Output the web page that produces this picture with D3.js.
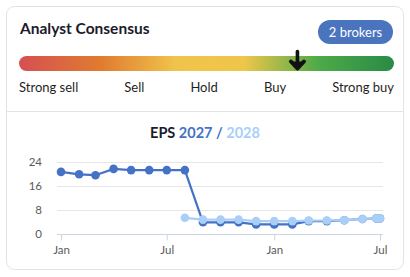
<!DOCTYPE html>
<html><head><meta charset="utf-8">
<script src="https://cdn.jsdelivr.net/npm/d3@7"></script>
<style>
html,body{margin:0;padding:0;background:#fff;}
svg{display:block;font-family:Lato,"Noto Sans",sans-serif;}
</style></head>
<body><svg id="c" width="410" height="277"></svg>
<script>
const title = "Analyst Consensus";
const brokers = "2 brokers";
const ratingLabels = ["Strong sell","Sell","Hold","Buy","Strong buy"];
const consensus = 3.97; // 1 = Strong sell ... 5 = Strong buy
const gradientStops = ["#d64f52","#e07c30","#f0c44c","#eec64a","#4caa48","#2a8a46"];
const gradientOffsets = [0,0.22,0.42,0.6,0.8,1];

const dates2027 = ["2025-01-01","2025-02-01","2025-03-01","2025-04-01","2025-05-01","2025-06-01","2025-07-01","2025-08-01","2025-09-01","2025-10-01","2025-11-01","2025-12-01","2026-01-01","2026-02-01","2026-03-01","2026-04-01","2026-05-01","2026-06-01","2026-06-25","2026-07-01"];
const eps2027 = [20.7,19.9,19.6,21.7,21.3,21.3,21.3,21.3,3.9,3.9,3.9,3.2,3.2,3.2,4.3,4.3,4.6,5.0,5.2,5.2];
const dates2028 = ["2025-08-01","2025-09-01","2025-10-01","2025-11-01","2025-12-01","2026-01-01","2026-02-01","2026-03-01","2026-04-01","2026-05-01","2026-06-01","2026-06-25","2026-07-01"];
const eps2028 = [5.4,4.8,4.8,4.8,4.3,4.3,4.3,4.5,4.5,4.6,5.0,5.2,5.2];
const yTicks = [0,8,16,24];

const c2027 = "#4472c4", c2028 = "#a9cff8";
const svg = d3.select("#c");
const parse = d3.timeParse("%Y-%m-%d");

// card
svg.append("rect").attr("x",6.5).attr("y",6.5).attr("width",397).attr("height",263)
  .attr("rx",8).attr("fill","#fff").attr("stroke","#e3e3e3");
svg.append("line").attr("x1",7).attr("x2",403).attr("y1",111.5).attr("y2",111.5).attr("stroke","#e3e3e3");

// title
svg.append("text").attr("x",20).attr("y",34).attr("font-size",15.5).attr("font-weight",700)
  .attr("fill","#1b1b2b").text(title);
// badge
svg.append("rect").attr("x",318).attr("y",20).attr("width",75).attr("height",24).attr("rx",12).attr("fill","#4a74bd");
svg.append("text").attr("x",355.5).attr("y",37).attr("text-anchor","middle").attr("font-size",13)
  .attr("fill","#fff").text(brokers);

// gradient bar
const defs = svg.append("defs");
const lg = defs.append("linearGradient").attr("id","g").attr("x1","0%").attr("x2","100%");
gradientStops.forEach((s,i)=>lg.append("stop").attr("offset",gradientOffsets[i]).attr("stop-color",s));
const barX0 = 19, barX1 = 394;
svg.append("rect").attr("x",barX0).attr("y",56).attr("width",barX1-barX0).attr("height",15).attr("rx",7.5).attr("fill","url(#g)");
const rScale = d3.scaleLinear().domain([1,5]).range([barX0,barX1]);
const ax = rScale(consensus);
svg.append("line").attr("x1",ax).attr("x2",ax).attr("y1",51.5).attr("y2",67).attr("stroke","#111").attr("stroke-width",3.6).attr("stroke-linecap","round");
svg.append("path").attr("d",`M${ax-6.5},${61.5}L${ax},${68.5}L${ax+6.5},${61.5}`).attr("fill","#111").attr("stroke","#111").attr("stroke-width",4).attr("stroke-linecap","round").attr("stroke-linejoin","round");

// rating labels spaced between
const lbl = svg.append("g").selectAll("text").data(ratingLabels).join("text")
  .attr("y",92).attr("font-size",13).attr("fill","#1f1f1f").text(d=>d);
const widths = lbl.nodes().map(n=>n.getComputedTextLength());
const gap = (barX1-barX0-d3.sum(widths))/(ratingLabels.length-1);
let cx = barX0;
lbl.attr("x",(d,i)=>{const x=cx; cx+=widths[i]+gap; return x;});

// EPS title
const t = svg.append("text").attr("x",205).attr("y",138).attr("text-anchor","middle").attr("font-size",14.5).attr("font-weight",700);
t.append("tspan").attr("fill","#1b1b2b").text("EPS ");
t.append("tspan").attr("fill",c2027).text("2027 / ");
t.append("tspan").attr("fill",c2028).text("2028");

// chart
const x = d3.scaleTime().domain([parse("2025-01-01"),parse("2026-07-01")]).range([61,380]);
const y = d3.scaleLinear().domain([0,24]).range([234,162]);
const gx0 = 57, gx1 = 383;
svg.append("g").selectAll("line").data(yTicks.filter(d=>d>0)).join("line")
  .attr("x1",gx0).attr("x2",gx1).attr("y1",d=>Math.round(y(d))+0.5).attr("y2",d=>Math.round(y(d))+0.5)
  .attr("stroke","#e6e6e6");
svg.append("g").selectAll("text").data(yTicks).join("text")
  .attr("x",42).attr("y",d=>y(d)+4).attr("text-anchor","end").attr("font-size",11.5).attr("fill","#5a5a5a")
  .text(d=>d);
// x axis
const xAxis = d3.axisBottom(x).ticks(d3.timeMonth.every(6)).tickFormat(d3.timeFormat("%b")).tickSize(6).tickSizeOuter(0);
const xg = svg.append("g").attr("transform","translate(0,234.5)").call(xAxis);
xg.select(".domain").attr("d",`M${gx0},0H${gx1}`).attr("stroke","#ccd6e0");
xg.selectAll(".tick line").attr("stroke","#ccd6e0");
xg.selectAll(".tick text").attr("font-size",11.5).attr("fill","#5a5a5a").attr("font-family","Lato,sans-serif").attr("dy","0.95em");

const line = d3.line().x(d=>x(d[0])).y(d=>y(d[1]));
function series(dates, vals, col){
  const data = dates.map((d,i)=>[parse(d),vals[i]]);
  svg.append("path").datum(data).attr("d",line).attr("fill","none").attr("stroke",col).attr("stroke-width",2.2);
  svg.append("g").selectAll("circle").data(data).join("circle")
    .attr("cx",d=>x(d[0])).attr("cy",d=>y(d[1])).attr("r",4.3).attr("fill",col);
}
series(dates2027, eps2027, c2027);
series(dates2028, eps2028, c2028);
</script></body></html>
